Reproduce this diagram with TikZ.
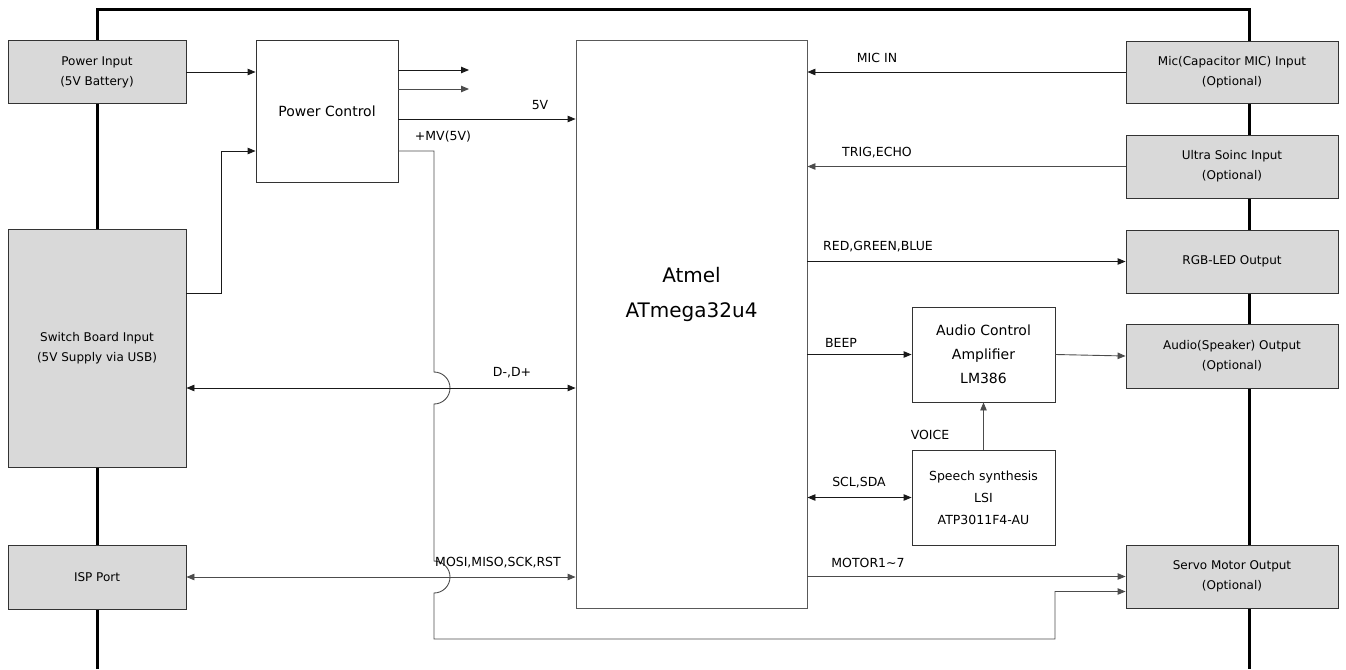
\documentclass[tikz,border=0pt]{standalone}
\usepackage{fontspec}
\setmainfont{DejaVu Sans}
\usetikzlibrary{arrows.meta, calc, positioning}

\begin{document}
\begin{tikzpicture}[x=1pt, y=-1pt, >={Triangle[length=8pt,width=6.5pt]},
    wire/.style={draw=black!90, line width=0.9pt},
    gwire/.style={draw=black!70, line width=0.9pt},
    gbox/.style={draw=black!80, fill=black!15, line width=0.9pt, inner sep=0pt,
        align=center, font=\fontsize{12}{20}\selectfont},
    wbox/.style={draw=black!80, fill=white, line width=0.9pt, inner sep=0pt,
        align=center, minimum width=143pt, minimum height=95pt},
    lbl/.style={inner sep=0pt, font=\fontsize{12.5}{14}\selectfont}]
    \useasboundingbox (0,0) rectangle (1346,669);

    % Khung ngoai
    \draw[line width=3pt] (97,669) -- (97,10) -- (1249,10) -- (1249,669);

    % Cac khoi ben trai
    \node[gbox, minimum width=178pt, minimum height=63pt]  (pin)  at (97,72)  {Power Input\\(5V Battery)};
    \node[gbox, minimum width=178pt, minimum height=238pt] (sw)   at (97,348) {Switch Board Input\\(5V Supply via USB)};
    \node[gbox, minimum width=178pt, minimum height=64pt]  (isp)  at (97,577) {ISP Port};

    % Power Control va vi dieu khien
    \node[draw=black!80, line width=0.9pt, minimum width=142pt, minimum height=142pt,
          font=\fontsize{14}{16}\selectfont] (pc) at (327,111) {Power Control};
    \node[draw=black!65, line width=0.9pt, minimum width=231pt, minimum height=568pt] (mcu) at (691.5,324) {};
    \node[align=center, font=\fontsize{20}{35}\selectfont] (mcutxt) at ($(mcu.center)+(0,-30)$) {Atmel\\ATmega32u4};

    % Cac khoi ben phai
    \node[gbox, minimum width=212pt, minimum height=62pt] (mic)   at (1232,72)    {Mic(Capacitor MIC) Input\\(Optional)};
    \node[gbox, minimum width=212pt, minimum height=63pt] (us)    at (1232,166.5) {Ultra Soinc Input\\(Optional)};
    \node[gbox, minimum width=212pt, minimum height=63pt] (rgb)   at (1232,261.5) {RGB-LED Output};
    \node[gbox, minimum width=212pt, minimum height=64pt] (spk)   at (1232,356)   {Audio(Speaker) Output\\(Optional)};
    \node[gbox, minimum width=212pt, minimum height=63pt] (servo) at (1232,576.5) {Servo Motor Output\\(Optional)};

    % Amply va LSI
    \node[wbox, font=\fontsize{14}{24}\selectfont] (amp) at (983.5,354.5) {Audio Control\\Amplifier\\LM386};
    \node[wbox, font=\fontsize{12.5}{22}\selectfont] (lsi) at (983.5,497.5) {Speech synthesis\\LSI\\ATP3011F4-AU};

    % Nguon
    \coordinate (o1) at (469,70);
    \coordinate (o2) at (469,89);
    \draw[wire, ->] (pin.east) -- (pin.east -| pc.west);
    \draw[wire, ->] (sw.east |- 0,293) -- (221,293) |- (pc.west |- 0,151);
    \draw[wire, ->] (o1 -| pc.east) -- (o1);
    \draw[gwire, ->] (o2 -| pc.east) -- (o2);
    \draw[wire, ->] (pc.east |- 0,119) -- (mcu.west |- 0,119);
    \node[lbl] (l5v) at (540,105) {5V};

    % +MV(5V) vong xuong servo, nhay qua hai duong
    \draw[gwire, ->] (pc.east |- 0,151) -- (434,151) -- (434,372)
        arc[start angle=-90, end angle=90, radius=16] -- (434,561)
        arc[start angle=-90, end angle=90, radius=16] -- (434,639) -- (1055,639)
        |- ([yshift=-15pt]servo.west);
    \node[lbl] (lmv) at (443,137) {+MV(5V)};

    % USB va ISP
    \draw[wire, <->] (sw.east |- 0,388) -- (mcu.west |- 0,388);
    \node[lbl] (lusb) at (512,373) {D-,D+};
    \draw[gwire, <->] (isp.east) -- (isp.east -| mcu.west);
    \node[lbl] (lisp) at (498,563) {MOSI,MISO,SCK,RST};

    % Tin hieu ben phai
    \draw[wire, ->] (mic.west) -- (mic.west -| mcu.east);
    \node[lbl] (lmic) at (877,58) {MIC IN};
    \draw[gwire, ->] (us.west) -- (us.west -| mcu.east);
    \node[lbl] (lus) at (877,153) {TRIG,ECHO};
    \draw[wire, ->] (rgb.west -| mcu.east) -- (rgb.west);
    \node[lbl] (lrgb) at (878,247) {RED,GREEN,BLUE};
    \draw[wire, ->] (amp.west -| mcu.east) -- (amp.west);
    \node[lbl] (lbeep) at (841,343) {BEEP};
    \draw[gwire, ->] (amp.east) -- (spk.west);
    \draw[gwire, ->] (lsi.north) -- (amp.south);
    \node[lbl] (lvoice) at (930,435) {VOICE};
    \draw[wire, <->] (lsi.west -| mcu.east) -- (lsi.west);
    \node[lbl] (lscl) at (859,483) {SCL,SDA};
    \draw[gwire, ->] (servo.west -| mcu.east) -- (servo.west);
    \node[lbl] (lmot) at (868,563) {MOTOR1\textasciitilde 7};
\end{tikzpicture}
\end{document}
